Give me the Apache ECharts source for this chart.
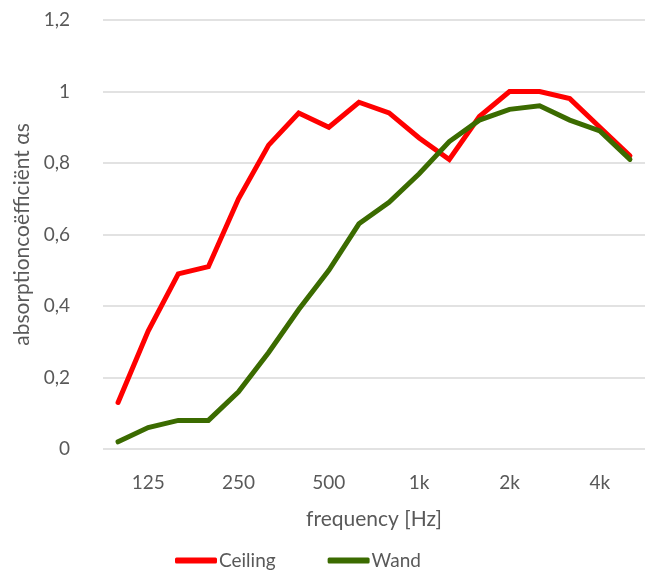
<!DOCTYPE html>
<html><head><meta charset="utf-8">
<script src="https://cdn.jsdelivr.net/npm/echarts@6/dist/echarts.min.js"></script>
<style>html,body{margin:0;padding:0;background:#fff}#c{width:651px;height:574px}</style>
</head><body><div id="c"></div>
<script>
const categories = ['100','125','160','200','250','315','400','500','630','800','1k','1.25k','1.6k','2k','2.5k','3.15k','4k','5k'];
const shownLabels = ['125','250','500','1k','2k','4k'];
const ceiling = [0.13,0.33,0.49,0.51,0.70,0.85,0.94,0.90,0.97,0.94,0.87,0.81,0.93,1.00,1.00,0.98,0.90,0.82];
const wand = [0.02,0.06,0.08,0.08,0.16,0.27,0.39,0.50,0.63,0.69,0.77,0.86,0.92,0.95,0.96,0.92,0.89,0.81];
const yTicks = [0,0.2,0.4,0.6,0.8,1,1.2];

const font = 'Lato, "Open Sans", sans-serif';
const txt = '#595959';
const chart = echarts.init(document.getElementById('c'));
chart.setOption({
  animation:false,
  textStyle:{fontFamily:font},
  grid:{left:103,right:6,top:20,bottom:125},
  legend:{
    bottom:-1,left:170,icon:'roundRect',itemWidth:42,itemHeight:6,itemGap:52,
    textStyle:{fontFamily:font,fontSize:19,color:txt,padding:[0,0,0,-3]},
    data:['Ceiling','Wand']
  },
  xAxis:{
    type:'category',data:categories,boundaryGap:true,
    name:'frequency [Hz]',nameLocation:'middle',nameGap:60,
    nameTextStyle:{fontFamily:font,fontSize:21,color:txt},
    axisLine:{show:false},axisTick:{show:false},
    axisLabel:{interval:(i,v)=>shownLabels.includes(v),fontFamily:font,fontSize:19,color:txt,margin:24}
  },
  yAxis:{
    type:'value',min:yTicks[0],max:yTicks[yTicks.length-1],interval:yTicks[1]-yTicks[0],
    name:'absorptioncoëfficiënt αs',nameLocation:'middle',nameGap:70,
    nameTextStyle:{fontFamily:font,fontSize:21,color:txt},
    axisLine:{show:false},axisTick:{show:false},
    splitLine:{lineStyle:{color:'#d9d9d9',width:1.5}},
    axisLabel:{fontFamily:font,fontSize:19,color:txt,margin:33,
      formatter:v=>String(+v.toFixed(1)).replace('.',',')}
  },
  series:[
    {name:'Ceiling',type:'line',data:ceiling,symbol:'none',
     lineStyle:{color:'#ff0000',width:5,cap:'round',join:'miter'},itemStyle:{color:'#ff0000'}},
    {name:'Wand',type:'line',data:wand,symbol:'none',
     lineStyle:{color:'#3b6b00',width:5,cap:'round',join:'miter'},itemStyle:{color:'#3b6b00'}}
  ]
});
</script></body></html>
